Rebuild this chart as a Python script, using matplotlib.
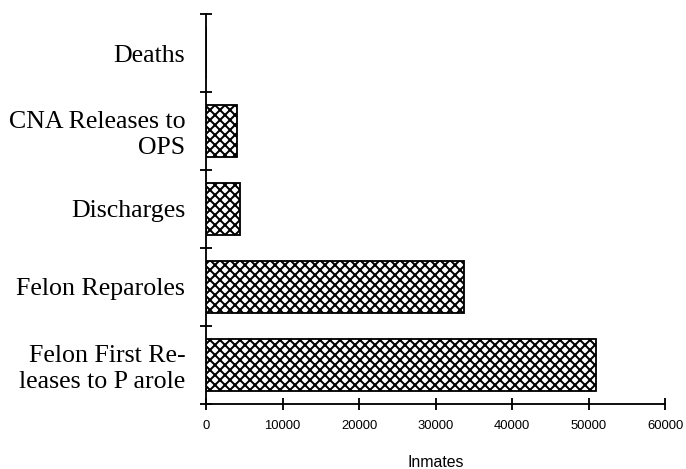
import numpy as np
from matplotlib import pyplot as plt

plt.rcParams['hatch.linewidth'] = 1.2

categories = ["Felon First Re-\nleases to P arole", "Felon Reparoles", "Discharges",
              "CNA Releases to\nOPS", "Deaths"]
inmates = [51000, 33700, 4500, 4100, 0]
xticks = [0, 10000, 20000, 30000, 40000, 50000, 60000]

# dpi 120 so the dense cross hatch comes out close to the scan
fig = plt.figure(figsize=(686 / 120, 469 / 120), dpi=120)
ax = fig.add_axes([206 / 686, 1 - 404 / 469, 459 / 686, 390 / 469])

pos = np.arange(len(categories))
ax.barh(pos, inmates, height=0.67, color='white', edgecolor='black',
        hatch='xxxx', linewidth=1.1)

ax.set_xlim(0, 60000)
ax.set_ylim(-0.5, len(categories) - 0.5)

ax.spines['top'].set_visible(False)
ax.spines['right'].set_visible(False)
ax.spines['left'].set_linewidth(1.1)
ax.spines['bottom'].set_linewidth(1.1)

ax.set_xticks(xticks)
ax.set_xticklabels([str(t) for t in xticks], family='Liberation Sans', fontsize=7.8)
ax.tick_params(axis='x', direction='inout', length=7, width=1.1, pad=6)

# labels in the middle of each band, tick marks on the band edges
ax.set_yticks(pos)
ax.set_yticklabels(categories, family='Liberation Serif', fontsize=15.5)
ax.tick_params(axis='y', which='major', length=0, pad=12.5)
ax.set_yticks(np.arange(-0.5, len(categories)), minor=True)
ax.tick_params(axis='y', which='minor', direction='inout', length=7, width=1.1)

ax.set_xlabel('Inmates', family='Liberation Sans', fontsize=9.5, labelpad=14)

fig.savefig('out.png', dpi=120)
